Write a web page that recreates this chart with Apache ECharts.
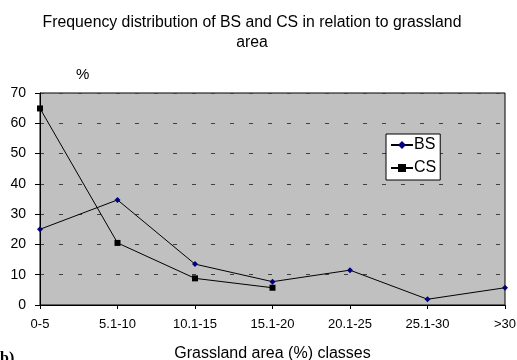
<!DOCTYPE html>
<html>
<head>
<meta charset="utf-8">
<script src="https://cdn.jsdelivr.net/npm/echarts@6/dist/echarts.min.js"></script>
<style>html,body{margin:0;padding:0;background:#fff}#c{width:517px;height:360px}</style>
</head>
<body>
<div id="c"></div>
<script>
var categories = ['0-5', '5.1-10', '10.1-15', '15.1-20', '20.1-25', '25.1-30', '>30'];
var bsValues = [25, 34.7, 13.5, 7.7, 11.5, 1.9, 5.7];
var csValues = [64.9, 20.5, 8.8, 5.7, null, null, null];
var yTicks = [0, 10, 20, 30, 40, 50, 60, 70];

var font = 'Liberation Sans, Arial, sans-serif';
var chart = echarts.init(document.getElementById('c'), null, {renderer: 'canvas'});
chart.setOption({
  animation: false,
  backgroundColor: '#fff',
  title: {
    text: 'Frequency distribution of BS and CS in relation to grassland\narea',
    left: 247, top: 8, textAlign: 'center',
    textStyle: {fontFamily: font, fontSize: 15.8, fontWeight: 'normal', color: '#000', lineHeight: 20}
  },
  grid: {
    left: 40, right: 12, top: 93, bottom: 55,
    outerBoundsMode: 'none', containLabel: false,
    show: true, backgroundColor: '#c0c0c0', borderColor: '#000', borderWidth: 1
  },
  legend: {
    orient: 'vertical', left: 386, top: 134, padding: [3, 4, 4, 4],
    backgroundColor: '#fff', borderColor: '#000', borderWidth: 1,
    itemWidth: 22, itemHeight: 10, itemGap: 7,
    textStyle: {fontFamily: font, fontSize: 16, color: '#000', padding: [0, 0, 0, -4]},
    data: ['BS', 'CS']
  },
  xAxis: {
    type: 'category', data: categories, boundaryGap: false,
    name: 'Grassland area (%) classes', nameLocation: 'middle', nameGap: 41,
    nameTextStyle: {fontFamily: font, fontSize: 16, color: '#000'},
    axisLine: {lineStyle: {color: '#000', width: 1}},
    axisTick: {show: true, length: 4, lineStyle: {color: '#000'}},
    axisLabel: {fontFamily: font, fontSize: 13, color: '#000', margin: 13},
    splitLine: {show: false}
  },
  yAxis: {
    type: 'value', min: yTicks[0], max: yTicks[yTicks.length - 1], interval: 10,
    name: '%', nameLocation: 'end', nameGap: 11,
    nameTextStyle: {fontFamily: font, fontSize: 15, color: '#000', align: 'left', padding: [0, 0, 0, 36]},
    axisLine: {show: true, lineStyle: {color: '#000', width: 1}},
    axisTick: {show: true, length: 5, lineStyle: {color: '#000'}},
    axisLabel: {fontFamily: font, fontSize: 14, color: '#000', margin: 14},
    splitLine: {show: true, lineStyle: {color: '#404040', type: [4, 15], width: 1}}
  },
  series: [
    {
      name: 'BS', type: 'line', data: bsValues,
      symbol: 'diamond', symbolSize: 6,
      itemStyle: {color: '#000080'},
      lineStyle: {color: '#000', width: 1}
    },
    {
      name: 'CS', type: 'line', data: csValues,
      symbol: 'rect', symbolSize: 6,
      itemStyle: {color: '#000'},
      lineStyle: {color: '#000', width: 1}
    }
  ],
  graphic: [
    {type: 'text', left: 0, top: 351, style: {text: 'b)', font: 'bold 16px "Liberation Serif", serif', fill: '#000'}}
  ]
});
</script>
</body>
</html>
